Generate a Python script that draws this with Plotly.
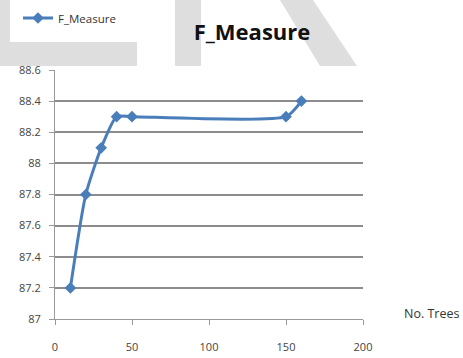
import plotly.graph_objects as go

# ---- data ----
trees = [10, 20, 30, 40, 50, 150, 160]
f_measure = [87.2, 87.8, 88.1, 88.3, 88.3, 88.3, 88.4]
x_ticks = [0, 50, 100, 150, 200]
y_ticks = [87, 87.2, 87.4, 87.6, 87.8, 88, 88.2, 88.4, 88.6]
y_tick_labels = ["87", "87.2", "87.4", "87.6", "87.8", "88", "88.2", "88.4", "88.6"]

W, H = 463, 358
ML, MR, MT, MB = 55, 100, 70, 39
PW, PH = W - ML - MR, H - MT - MB


def px(x):
    return (x - ML) / PW


def py(y):
    return (H - MB - y) / PH


fig = go.Figure()
fig.add_trace(go.Scatter(
    x=trees, y=f_measure, mode="lines+markers", name="F_Measure",
    line=dict(color="#4a7ebb", width=3, shape="spline", smoothing=0.6),
    marker=dict(symbol="diamond", size=9, color="#4a7ebb"),
))

gray = "#dedede"
shapes = []
for (x0, y0, x1, y1) in [(0, 0, 10, 43), (0, 42, 137, 66), (175, 0, 201, 66)]:
    shapes.append(dict(type="rect", xref="paper", yref="paper",
                       x0=px(x0), x1=px(x1), y0=py(y1), y1=py(y0),
                       fillcolor=gray, line=dict(width=0), layer="below"))
pts = [(280, 0), (313, 0), (357, 66), (320, 66)]
path = "M " + " L ".join(f"{px(a)},{py(b)}" for a, b in pts) + " Z"
shapes.append(dict(type="path", xref="paper", yref="paper", path=path,
                   fillcolor=gray, line=dict(width=0), layer="below"))

fig.update_layout(
    width=W, height=H,
    margin=dict(l=ML, r=MR, t=MT, b=MB, autoexpand=False),
    paper_bgcolor="white", plot_bgcolor="white",
    font=dict(family="Open Sans, sans-serif", color="#444444", size=11),
    title=dict(text="<b>F_Measure</b>", x=252 / W, xanchor="center",
               y=1 - 32 / H, yanchor="middle", automargin=False,
               font=dict(size=22, color="#111111", family="Open Sans, sans-serif")),
    showlegend=True,
    legend=dict(xref="container", yref="container", x=18 / W, y=1 - 18 / H,
                xanchor="left", yanchor="middle",
                bgcolor="rgba(0,0,0,0)", font=dict(size=11.5, color="#333333"),
                itemwidth=30),
    shapes=shapes,
    xaxis=dict(range=[0, 200], tickvals=x_ticks, showgrid=False, zeroline=False,
               showline=True, linecolor="#999999", linewidth=1,
               ticks="outside", ticklen=5, tickcolor="#999999",
               ticklabelstandoff=13, fixedrange=True, automargin=False),
    yaxis=dict(range=[87, 88.6], tickvals=y_ticks, ticktext=y_tick_labels,
               showgrid=True, gridcolor="#8c8c8c", gridwidth=1.5, zeroline=False,
               showline=True, linecolor="#999999", linewidth=1,
               ticks="outside", ticklen=5, tickcolor="#999999",
               ticklabelstandoff=6, fixedrange=True, automargin=False),
    annotations=[dict(text="No. Trees", xref="paper", yref="paper",
                      x=px(431), y=py(313), xanchor="center", yanchor="middle",
                      showarrow=False,
                      font=dict(size=12.5, color="#333333"))],
)

fig.write_html("out.html", config={"displayModeBar": False},
               post_script="document.body.style.margin='0';")
